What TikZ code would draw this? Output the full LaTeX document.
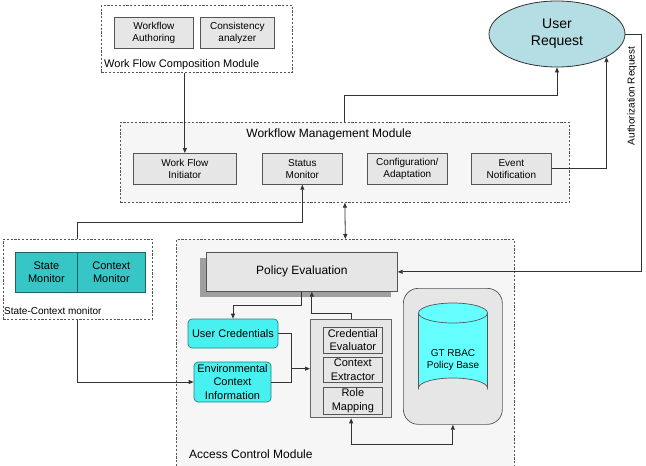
\documentclass[tikz,border=0pt]{standalone}
\usepackage{fontspec}
\setmainfont{Liberation Sans}
\usetikzlibrary{arrows.meta,shapes.geometric,calc}
\definecolor{boxfill}{HTML}{E6E6E6}
\definecolor{boxline}{HTML}{555555}
\definecolor{modfill}{HTML}{F6F6F6}
\definecolor{tealfill}{HTML}{36C6C6}
\definecolor{tealline}{HTML}{1E6464}
\definecolor{cyanfill}{HTML}{48F0F0}
\definecolor{cyanline}{HTML}{2A8080}
\definecolor{reqfill}{HTML}{B4DEE4}
\definecolor{dbfill}{HTML}{66FFFF}
\definecolor{linecol}{HTML}{333333}
\tikzset{
  fs/.style={font=\fontsize{#1pt}{\the\dimexpr #1pt*122/100\relax}\selectfont},
  module/.style={draw=boxline, dash pattern=on 2.2pt off 1.6pt, line width=0.7pt, anchor=north west, inner sep=0pt},
  gbox/.style={draw=boxline, fill=boxfill, line width=0.7pt, anchor=north west, align=center, inner sep=0pt, fs=10},
  tbox/.style={draw=tealline, fill=tealfill, line width=0.7pt, anchor=north west, align=center, inner sep=0pt, fs=11},
  cbox/.style={draw=cyanline, fill=cyanfill, line width=0.7pt, rounded corners=4pt, align=center, inner sep=0pt, fs=11},
  lbl/.style={inner sep=0pt},
  conn/.style={draw=linecol, line width=0.8pt},
  arr/.style={conn, -{Triangle[width=4pt,length=5pt]}},
  arrr/.style={conn, {Triangle[width=4pt,length=5pt]}-{Triangle[width=4pt,length=5pt]}},
}
\begin{document}
\begin{tikzpicture}[x=1pt,y=-1pt]
\useasboundingbox[fill=white] (0,0) rectangle (646,466);

% Work Flow Composition Module
\node[module, fill=white, minimum width=191, minimum height=67] (comp) at (101,5) {};
\node[gbox, minimum width=79, minimum height=31] (auth) at (114,17) {Workflow\\Authoring};
\node[gbox, minimum width=74, minimum height=31] (cons) at (200,17) {Consistency\\analyzer};
\node[lbl, anchor=west, fs=11] (complbl) at (104,65) {Work Flow Composition Module};

% User Request
\node[ellipse, draw=linecol, fill=reqfill, line width=0.8pt, minimum width=136, minimum height=66, inner sep=0pt, align=center, fs=14] (ureq) at (557,34) {User\\Request};

% Workflow Management Module
\node[module, fill=modfill, minimum width=449, minimum height=80] (wmm) at (120,122) {};
\node[lbl, fs=12] (wmmlbl) at (329,134) {Workflow Management Module};
\node[gbox, minimum width=103, minimum height=31] (init) at (133,153) {Work Flow\\Initiator};
\node[gbox, minimum width=80, minimum height=31] (status) at (262,153) {Status\\Monitor};
\node[gbox, minimum width=80, minimum height=31] (conf) at (367,153) {Configuration/\\Adaptation};
\node[gbox, minimum width=80, minimum height=31] (event) at (471,153) {Event\\Notification};

% State-Context monitor
\node[module, fill=white, minimum width=149, minimum height=80] (scm) at (3,239) {};
\node[tbox, minimum width=62, minimum height=40] (state) at (15,252) {State\\Monitor};
\node[tbox, minimum width=68, minimum height=40] (ctx) at (77,252) {Context\\Monitor};
\node[lbl, anchor=west, fs=10] (scmlbl) at (4,311) {State-Context monitor};

% Access Control Module
\node[module, fill=modfill, minimum width=338, minimum height=228] (acm) at (176,239) {};
\node[lbl, anchor=west, fs=12] (acmlbl) at (189,454) {Access Control Module};

% Policy Evaluation with shadow
\fill[gray!75] (200,258) rectangle (391,297);
\node[draw=boxline, fill=boxfill, line width=0.7pt, anchor=north west, minimum width=191, minimum height=39, inner sep=0pt, fs=12] (pe) at (206,252) {Policy Evaluation};

% User credentials / environment
\node[cbox, minimum width=90, minimum height=29] (uc) at (233,333.5) {User Credentials};
\node[cbox, minimum width=77, minimum height=40] (env) at (232.5,382) {Environmental\\Context\\Information};

% Group box
\node[draw=gray!80!black, fill=boxfill, line width=1.3pt, anchor=north west, minimum width=81, minimum height=98, inner sep=0pt] (grp) at (310,319) {};
\node[gbox, fs=11, minimum width=59, minimum height=26] (ceval) at (323,327) {Credential\\Evaluator};
\node[gbox, fs=11, minimum width=59, minimum height=25] (cext) at (323,357) {Context\\Extractor};
\node[gbox, fs=11, minimum width=59, minimum height=27] (role) at (323,387) {Role\\Mapping};

% Policy base
\node[draw=boxline, fill=boxfill, line width=0.7pt, rounded corners=15pt, anchor=north west, minimum width=99, minimum height=136, inner sep=0pt] (db) at (403,288) {};
\fill[dbfill] (418.5,313) -- (418.5,388) arc[start angle=180, end angle=360, x radius=34.5, y radius=10] -- (487.5,313) arc[start angle=0, end angle=180, x radius=34.5, y radius=-10] -- cycle;
\draw[boxline, line width=0.7pt] (418.5,313) -- (418.5,388) arc[start angle=180, end angle=0, x radius=34.5, y radius=-10] -- (487.5,313);
\draw[boxline, line width=0.7pt, fill=dbfill] (453,313) ellipse[x radius=34.5, y radius=10];
\node[lbl, align=center, fs=10] (dblbl) at (453,360) {GT RBAC\\Policy Base};

% Connectors
\draw[arr] (init |- comp.south) -- (init.north);
\draw[arr] (wmm.north) -- ++(0,-27) -| (ureq.south);
\draw[arr] (event.east) -| (ureq.-25);
\coordinate (arx) at (641,0);
\draw[arr] (ureq.east) -- (ureq.east -| arx) -- (arx |- pe.east) -- (pe.east);
\node[lbl, rotate=90, fs=10] (arlbl) at (632,96) {Authorization Request};
\draw[arr] (scm.north) -- ++(0,-17) -| (status.south);
\draw[arrr] (wmm.south) -- (acm.north);
\draw[arr] (scm.south) |- (env.west);
\draw[arr] (pe.south) -- ++(0,14) -| (uc.north);
\draw[arr] (grp.north) -- ++(0,-6) -| ([xshift=10pt]pe.south);
\coordinate (jn) at ($(grp.west)+(-19,0)$);
\draw[conn] (uc.east) -| (jn);
\draw[conn] (env.east) -| (jn);
\draw[arr] (jn) -- (grp.west);
\draw[arrr] (grp.south) -- ++(0,26) -| (db.south);
\end{tikzpicture}
\end{document}
